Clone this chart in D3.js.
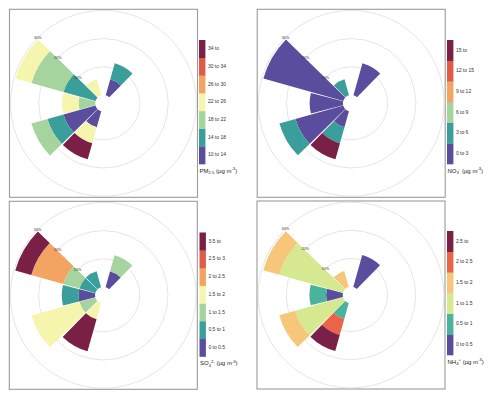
<!DOCTYPE html>
<html><head><meta charset="utf-8">
<script src="https://cdn.jsdelivr.net/npm/d3@7"></script>
<style>body{margin:0;background:#fff} svg{display:block;font-family:"Liberation Sans",Arial,sans-serif}</style>
</head><body><svg id="c" width="490" height="395"></svg>
<script>
// ---------- data ----------
const directions = [0,30,60,90,120,150,180,210,240,270,300,330];
const gridPercents = [10,20,30];
const gridLabels = ["10%","20%","30%"];

// rows = concentration bins (low -> high), columns = wind directions; values = frequency (%)
const pm25Labels = ["10 to 14","14 to 18","18 to 22","22 to 26","26 to 30","30 to 34","34 to"];
const pm25Colors = ["#5b4d9e","#3a9f9a","#a6d49f","#f6f5ae","#f4a462","#e05a4a","#7a1f45"];
const pm25Freq = [
  [0,5.9,0,0,0,0,0,5.9,11.8,0,0,0],
  [0,5.9,0,0,0,0,0,0,5.9,0,11.8,0],
  [0,0,0,0,0,0,0,0,5.9,5.9,11.8,0],
  [0,0,0,0,0,0,0,5.9,0,5.9,5.9,5.9],
  [0,0,0,0,0,0,0,0,0,0,0,0],
  [0,0,0,0,0,0,0,0,0,0,0,0],
  [0,0,0,0,0,0,0,5.9,0,0,0,0]
];

const no3Labels = ["0 to 3","3 to 6","6 to 9","9 to 12","12 to 15","15 to"];
const no3Colors = ["#5b4d9e","#3a9f9a","#a6d49f","#f4a462","#e05a4a","#7a1f45"];
const no3Freq = [
  [0,11.8,0,0,0,0,0,5.9,17.6,11.8,29.4,0],
  [0,0,0,0,0,0,0,5.9,5.9,0,0,5.9],
  [0,0,0,0,0,0,0,0,0,0,0,0],
  [0,0,0,0,0,0,0,0,0,0,0,0],
  [0,0,0,0,0,0,0,0,0,0,0,0],
  [0,0,0,0,0,0,0,5.9,0,0,0,0]
];

const so4Labels = ["0 to 0.5","0.5 to 1","1 to 1.5","1.5 to 2","2 to 2.5","2.5 to 3","3.5 to"];
const so4Colors = ["#5b4d9e","#3a9f9a","#a6d49f","#f6f5ae","#f4a462","#e05a4a","#7a1f45"];
const so4Freq = [
  [0,5.9,0,0,0,0,0,0,0,5.9,0,0],
  [0,0,0,0,0,0,0,0,0,5.9,5.9,5.9],
  [0,5.9,0,0,0,0,0,0,5.9,0,5.9,0],
  [0,0,0,0,0,0,0,5.9,17.6,0,0,0],
  [0,0,0,0,0,0,0,0,0,0,11.8,0],
  [0,0,0,0,0,0,0,0,0,0,0,0],
  [0,0,0,0,0,0,0,11.8,0,0,5.9,0]
];

const nh4Labels = ["0 to 0.5","0.5 to 1","1 to 1.5","1.5 to 2","2 to 2.5","2.5 to"];
const nh4Colors = ["#5b4d9e","#4ab39c","#d6e890","#f6c77a","#ea6448","#7a1f45"];
const nh4Freq = [
  [0,11.8,0,0,0,0,0,0,0,5.9,0,0],
  [0,0,0,0,0,0,0,5.9,0,5.9,0,0],
  [0,0,0,0,0,0,0,0,17.6,0,23.5,0],
  [0,0,0,0,0,0,0,0,5.9,0,5.9,5.9],
  [0,0,0,0,0,0,0,5.9,0,0,0,0],
  [0,0,0,0,0,0,0,5.9,0,0,0,0]
];

// ---------- layout ----------
const panels = [
  {freq: pm25Freq, labels: pm25Labels, colors: pm25Colors, cx: 103.5, cy: 103.3, lx: 199, ly: 40, title: [["PM",0],["2.5",-1],[" (µg m",0],["-3",1],[")",0]]},
  {freq: no3Freq,  labels: no3Labels,  colors: no3Colors,  cx: 351.2, cy: 103.3, lx: 447, ly: 40, title: [["NO",0],["3",-1],["-",1],[" (µg m",0],["-3",1],[")",0]]},
  {freq: so4Freq,  labels: so4Labels,  colors: so4Colors,  cx: 103.3, cy: 295.3, lx: 199.5, ly: 232.5, title: [["SO",0],["4",-1],["2-",1],[" (µg m",0],["-3",1],[")",0]]},
  {freq: nh4Freq,  labels: nh4Labels,  colors: nh4Colors,  cx: 351.0, cy: 295.0, lx: 447, ly: 231, title: [["NH",0],["4",-1],["+",1],[" (µg m",0],["-3",1],[")",0]]}
];

const svg = d3.select("#c");
const k = 2.82, off = 2.94;
const r = d3.scaleLinear().domain([0, 30]).range([k*off, k*(off+30)]);
const ang = d3.scaleLinear().domain([0, 360]).range([0, 2*Math.PI]);
const halfW = 14.3;
const arc = d3.arc();
const boxHalf = 94, legH = 124, legW = 6.4;

panels.forEach(p => {
  svg.append("rect").attr("x", p.cx-boxHalf).attr("y", p.cy-boxHalf)
    .attr("width", 2*boxHalf).attr("height", 2*boxHalf)
    .attr("fill","none").attr("stroke","#9b9b9b").attr("stroke-width",1.1);
  const g = svg.append("g").attr("transform", `translate(${p.cx},${p.cy})`);
  g.selectAll("circle.grid").data(gridPercents).join("circle").attr("class","grid")
    .attr("r", d => r(d)).attr("fill","none").attr("stroke","#dadada").attr("stroke-width",0.7);

  // stacked wedges
  const segs = [];
  directions.forEach((dir, i) => {
    let cum = 0;
    p.freq.forEach((row, b) => {
      const v = row[i];
      if (v > 0) { segs.push({dir, b, lo: cum, hi: cum+v}); cum += v; }
    });
  });
  g.selectAll("path.seg").data(segs).join("path").attr("class","seg")
    .attr("d", d => arc({innerRadius: r(d.lo), outerRadius: r(d.hi),
        startAngle: ang(d.dir - halfW), endAngle: ang(d.dir + halfW)}))
    .attr("fill", d => p.colors[d.b]);

  g.selectAll("text.gl").data(gridPercents).join("text").attr("class","gl")
    .attr("x", d => r(d)*Math.sin(ang(315)))
    .attr("y", d => -r(d)*Math.cos(ang(315)))
    .attr("text-anchor","middle").attr("dominant-baseline","middle")
    .attr("font-size",3.8).attr("fill","#333")
    .text((d,i) => gridLabels[i]);

  // legend
  const n = p.labels.length;
  const y = d3.scaleBand().domain(d3.range(n).reverse()).range([p.ly, p.ly+legH]).paddingInner(0);
  const lg = svg.append("g");
  lg.selectAll("rect").data(d3.range(n)).join("rect")
    .attr("x", p.lx).attr("y", d => y(d)).attr("width", legW).attr("height", y.bandwidth()+0.3)
    .attr("fill", d => p.colors[d]);
  lg.selectAll("text").data(d3.range(n)).join("text")
    .attr("x", p.lx + legW + 2.5).attr("y", d => y(d) + y.bandwidth()/2)
    .attr("dominant-baseline","middle").attr("font-size",5).attr("fill","#333")
    .text(d => p.labels[d]);
  const t = lg.append("text").attr("x", p.lx + 0.5).attr("y", p.ly + legH + 8.5)
    .attr("font-size", 6).attr("fill","#222");
  p.title.forEach(([s, pos]) => {
    const ts = t.append("tspan").text(s);
    if (pos !== 0) {
      ts.attr("font-size", 4.2).attr("dy", pos < 0 ? 1.6 : -2.4);
      // restore baseline after
    }
  });
  // fix baselines: rebuild with explicit dy resets
  t.selectAll("tspan").each(function(d, i) {
    const pos = p.title[i][1];
    const prev = i > 0 ? p.title[i-1][1] : 0;
    const off0 = v => v < 0 ? 1.6 : (v > 0 ? -2.4 : 0);
    d3.select(this).attr("dy", off0(pos) - off0(prev));
  });
});
</script></body></html>
